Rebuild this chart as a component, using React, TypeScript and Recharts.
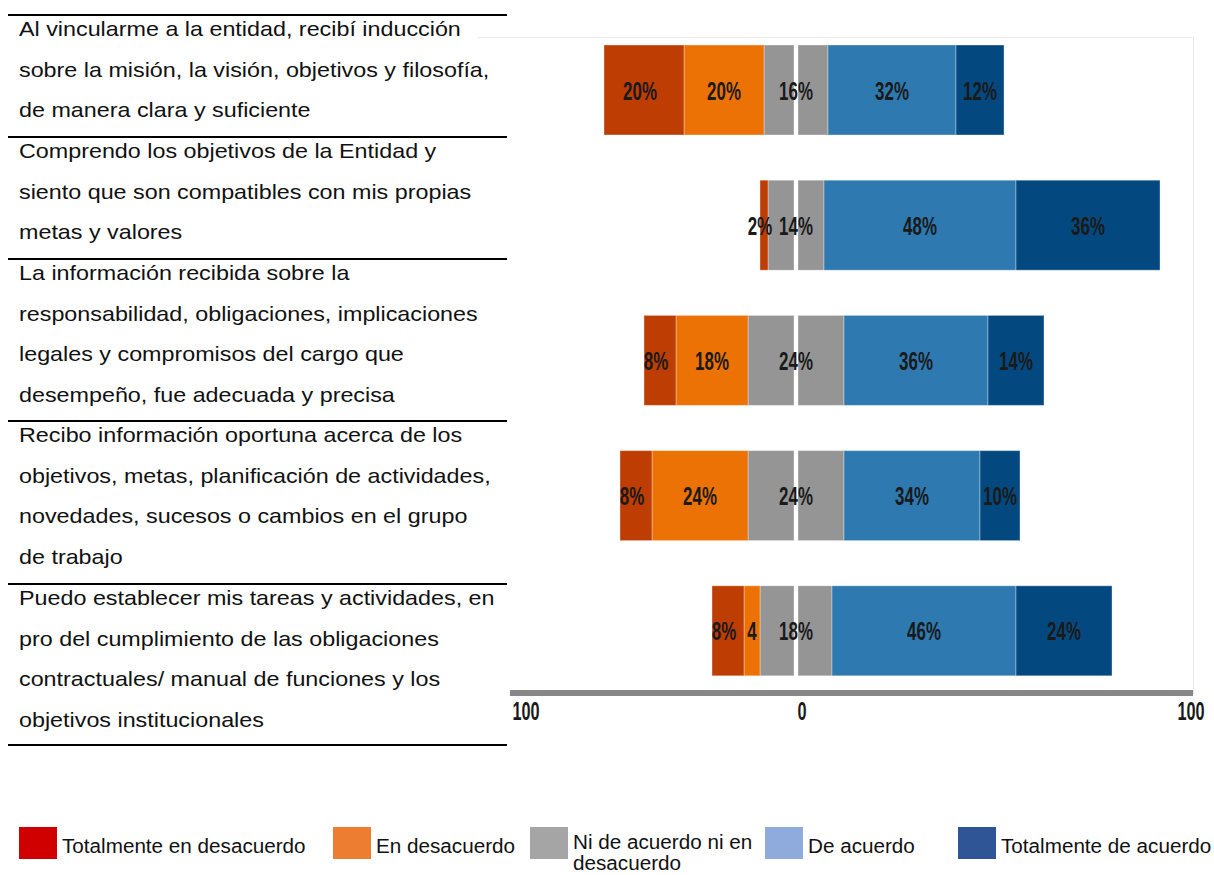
import { BarChart, Bar, XAxis, YAxis, LabelList } from "recharts";

// survey statements, one array of wrapped lines per row (same wrapping as the report)
const itemLines = [
  [
    "Al vincularme a la entidad, recibí inducción",
    "sobre la misión, la visión, objetivos y filosofía,",
    "de manera clara y suficiente",
  ],
  [
    "Comprendo los objetivos de la Entidad y",
    "siento que son compatibles con mis propias",
    "metas y valores",
  ],
  [
    "La información recibida sobre la",
    "responsabilidad, obligaciones, implicaciones",
    "legales y compromisos del cargo que",
    "desempeño, fue adecuada y precisa",
  ],
  [
    "Recibo información oportuna acerca de los",
    "objetivos, metas, planificación de actividades,",
    "novedades, sucesos o cambios en el grupo",
    "de trabajo",
  ],
  [
    "Puedo establecer mis tareas y actividades, en",
    "pro del cumplimiento de las obligaciones",
    "contractuales/ manual de funciones y los",
    "objetivos institucionales",
  ],
];

const categories = ["P1", "P2", "P3", "P4", "P5"];
const totalDisagree = [20, 2, 8, 8, 8];
const disagree = [20, 0, 18, 24, 4];
const neutral = [16, 14, 24, 24, 18];
const agree = [32, 48, 36, 34, 46];
const totalAgree = [12, 36, 14, 10, 24];
// the report prints "4" (no %) on the last disagree segment
const disagreeText = ["20%", "", "18%", "24%", "4"];

const axisTicks = [-71.5, 0, 99.25];
const axisTickLabels = ["100", "0", "100"];

const legendItems = [
  { name: "Totalmente en desacuerdo", color: "#D00000" },
  { name: "En desacuerdo", color: "#ED7D31" },
  { name: "Ni de acuerdo ni en desacuerdo", color: "#A5A5A5" },
  { name: "De acuerdo", color: "#8FAADC" },
  { name: "Totalmente de acuerdo", color: "#2F5597" },
];

const COLORS = {
  td: "#BE3D03",
  d: "#EC7206",
  n: "#959595",
  a: "#2D79B0",
  ta: "#03497F",
};

const pct = (v: number) => (v ? `${v}%` : "");

const data = categories.map((cat, i) => ({
  cat,
  nNeg: -neutral[i] / 2,
  dNeg: -disagree[i],
  tdNeg: -totalDisagree[i],
  nPos: neutral[i] / 2,
  a: agree[i],
  ta: totalAgree[i],
  tdLabel: pct(totalDisagree[i]),
  dLabel: disagreeText[i],
  nLabel: pct(neutral[i]),
  aLabel: pct(agree[i]),
  taLabel: pct(totalAgree[i]),
}));

// rect with optional 2px trim on the zero side (white gap splitting the neutral bar)
const makeShape = (trim: "left" | "right" | null) => (props: any) => {
  const { x, y, width, height, fill } = props;
  let l = Math.min(x, x + width);
  let r = Math.max(x, x + width);
  if (trim === "right") r -= 2;
  if (trim === "left") l += 2;
  if (r - l <= 0.5) return <g />;
  return (
    <rect
      x={l}
      y={y}
      width={r - l}
      height={height}
      fill={fill}
      stroke="rgba(255,255,255,0.35)"
      strokeWidth={1}
    />
  );
};

const condensed = (cx: number, baseline: number, text: string, size = 26) => (
  <text
    transform={`translate(${cx},${baseline}) scale(0.65,1)`}
    textAnchor="middle"
    fontFamily="'Liberation Sans', Arial, sans-serif"
    fontWeight={700}
    fontSize={size}
    fill="#1a1a1a"
  >
    {text}
  </text>
);

const makeLabel = (atZero = false, dx = 0) => (props: any) => {
  const { x, y, width, height, value } = props;
  if (!value) return null;
  const cx = atZero ? Math.min(x, x + width) : x + width / 2;
  return condensed(cx + dx, y + height / 2 + 9.5, String(value));
};

function AxisTick(props: any) {
  const { x, y, index } = props;
  const label = axisTickLabels[index] ?? "";
  let cx = x;
  if (index === 0) cx = x + 16;
  if (index === 1) cx = x + 6;
  if (index === 2) cx = x - 2;
  return condensed(cx, y + 14, label, 25);
}

export default function App() {
  const rules = [15, 137, 259, 421, 584, 745];
  const textTops = [9.3, 131.3, 253.3, 415.3, 578.3];

  return (
    <div
      style={{
        position: "absolute",
        left: 0,
        top: 0,
        width: 1214,
        height: 875,
        background: "#fff",
        fontFamily: "'Liberation Sans', Arial, sans-serif",
        color: "#111",
        overflow: "hidden",
      }}
    >
      {/* statement table on the left */}
      {rules.map((top) => (
        <div
          key={top}
          style={{ position: "absolute", left: 8, top: top - 1, width: 499, height: 2, background: "#000" }}
        />
      ))}
      {itemLines.map((lines, i) => (
        <div
          key={i}
          style={{
            position: "absolute",
            left: 19,
            top: textTops[i],
            fontSize: 21,
            lineHeight: "40.5px",
            whiteSpace: "nowrap",
            transform: "scaleX(1.11)",
            transformOrigin: "0 0",
          }}
        >
          {lines.map((l) => (
            <div key={l}>{l}</div>
          ))}
        </div>
      ))}

      {/* faint chart frame */}
      <div
        style={{
          position: "absolute",
          left: 478,
          top: 37,
          width: 715,
          height: 656,
          borderTop: "1px solid #ececec",
          borderRight: "1px solid #e6e6e6",
        }}
      />

      <div style={{ position: "absolute", left: 478, top: 0 }}>
        <BarChart
          width={736}
          height={740}
          data={data}
          layout="vertical"
          stackOffset="sign"
          barSize={90}
          margin={{ top: 22, right: 21, left: 32, bottom: 12 }}
        >
          <XAxis
            type="number"
            domain={[-71.5, 99.25]}
            ticks={axisTicks}
            allowDataOverflow
            height={30}
            tickLine={false}
            axisLine={{ stroke: "#878787", strokeWidth: 6, transform: "translate(0,-5)" }}
            tick={<AxisTick />}
            interval={0}
          />
          <YAxis type="category" dataKey="cat" hide />
          <Bar dataKey="nNeg" stackId="s" fill={COLORS.n} shape={makeShape("right")} isAnimationActive={false} />
          <Bar dataKey="dNeg" stackId="s" fill={COLORS.d} shape={makeShape(null)} isAnimationActive={false}>
            <LabelList dataKey="dLabel" content={makeLabel()} />
          </Bar>
          <Bar dataKey="tdNeg" stackId="s" fill={COLORS.td} shape={makeShape(null)} isAnimationActive={false}>
            <LabelList dataKey="tdLabel" content={makeLabel(false, -4)} />
          </Bar>
          <Bar dataKey="nPos" stackId="s" fill={COLORS.n} shape={makeShape("left")} isAnimationActive={false}>
            <LabelList dataKey="nLabel" content={makeLabel(true)} />
          </Bar>
          <Bar dataKey="a" stackId="s" fill={COLORS.a} shape={makeShape(null)} isAnimationActive={false}>
            <LabelList dataKey="aLabel" content={makeLabel()} />
          </Bar>
          <Bar dataKey="ta" stackId="s" fill={COLORS.ta} shape={makeShape(null)} isAnimationActive={false}>
            <LabelList dataKey="taLabel" content={makeLabel()} />
          </Bar>
        </BarChart>
      </div>

      {/* legend (colours differ from the bars, as in the report) */}
      {legendItems.map((item, i) => {
        const sq = [19, 333, 530, 765, 958][i];
        const two = i === 2;
        return (
          <div key={item.name}>
            <div
              style={{ position: "absolute", left: sq, top: 827, width: 38, height: 32, background: item.color }}
            />
            <div
              style={{
                position: "absolute",
                left: sq + 43,
                top: two ? 832 : 834,
                fontSize: 19.5,
                lineHeight: two ? "21px" : "24px",
                whiteSpace: "nowrap",
                color: "#111",
                transform: "scaleX(1.06)",
                transformOrigin: "0 0",
              }}
            >
              {two ? (
                <>
                  <div>Ni de acuerdo ni en</div>
                  <div>desacuerdo</div>
                </>
              ) : (
                item.name
              )}
            </div>
          </div>
        );
      })}
    </div>
  );
}
